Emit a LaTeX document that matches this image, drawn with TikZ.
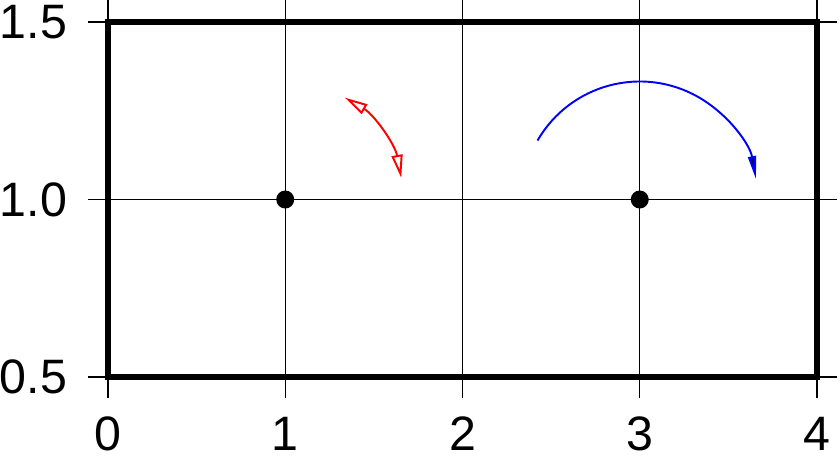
\documentclass[tikz,border=0pt]{standalone}
\usepackage{fontspec}
\setmainfont{Liberation Sans}
\usetikzlibrary{arrows.meta}

\begin{document}
\begin{tikzpicture}[
    x=3.545cm, y=7.1cm,
    frame/.style={line width=2.9pt},
    gridline/.style={line width=0.8pt},
    ticklabel/.style={inner sep=0pt, font=\fontsize{27.5}{30}\selectfont},
    dot/.style={circle, fill=black, inner sep=0pt, minimum size=0.36cm},
    redarc/.style={red, line width=1.1pt, {Triangle[open, length=0.46cm, width=0.22cm]}-{Triangle[open, length=0.46cm, width=0.22cm]}},
    bluearc/.style={blue, line width=1.1pt, -{Triangle[length=0.46cm, width=0.16cm, fill=blue!40!black]}}
  ]
  \useasboundingbox (-0.6093,0.2775) rectangle (4.1298,1.562);
  % grid and ticks
  \foreach \x in {0,...,4} {
    \draw[gridline] (\x,0.441) -- (\x,1.562);
    \node[ticklabel, anchor=north] (xl\x) at (\x,0.389) {\x};
  }
  \foreach \y/\t/\n in {0.5/0.5/a, 1/1.0/b, 1.5/1.5/c} {
    \draw[gridline] (-0.113,\y) -- (4.113,\y);
    \node[ticklabel, anchor=east] (yl\n) at (-0.2285,\y) {\t};
  }
  \draw[frame] (0,0.5) rectangle (4,1.5);

  % points and arcs
  \node[dot] (pa) at (1,1) {};
  \node[dot] (pb) at (3,1) {};
  \draw[redarc] ([shift={(59.7:2.36cm)}]pa.center) arc[start angle=59.7, end angle=10.6, radius=2.36cm];
  \draw[bluearc] ([shift={(150:2.36cm)}]pb.center) arc[start angle=150, end angle=10, radius=2.36cm];
\end{tikzpicture}
\end{document}
